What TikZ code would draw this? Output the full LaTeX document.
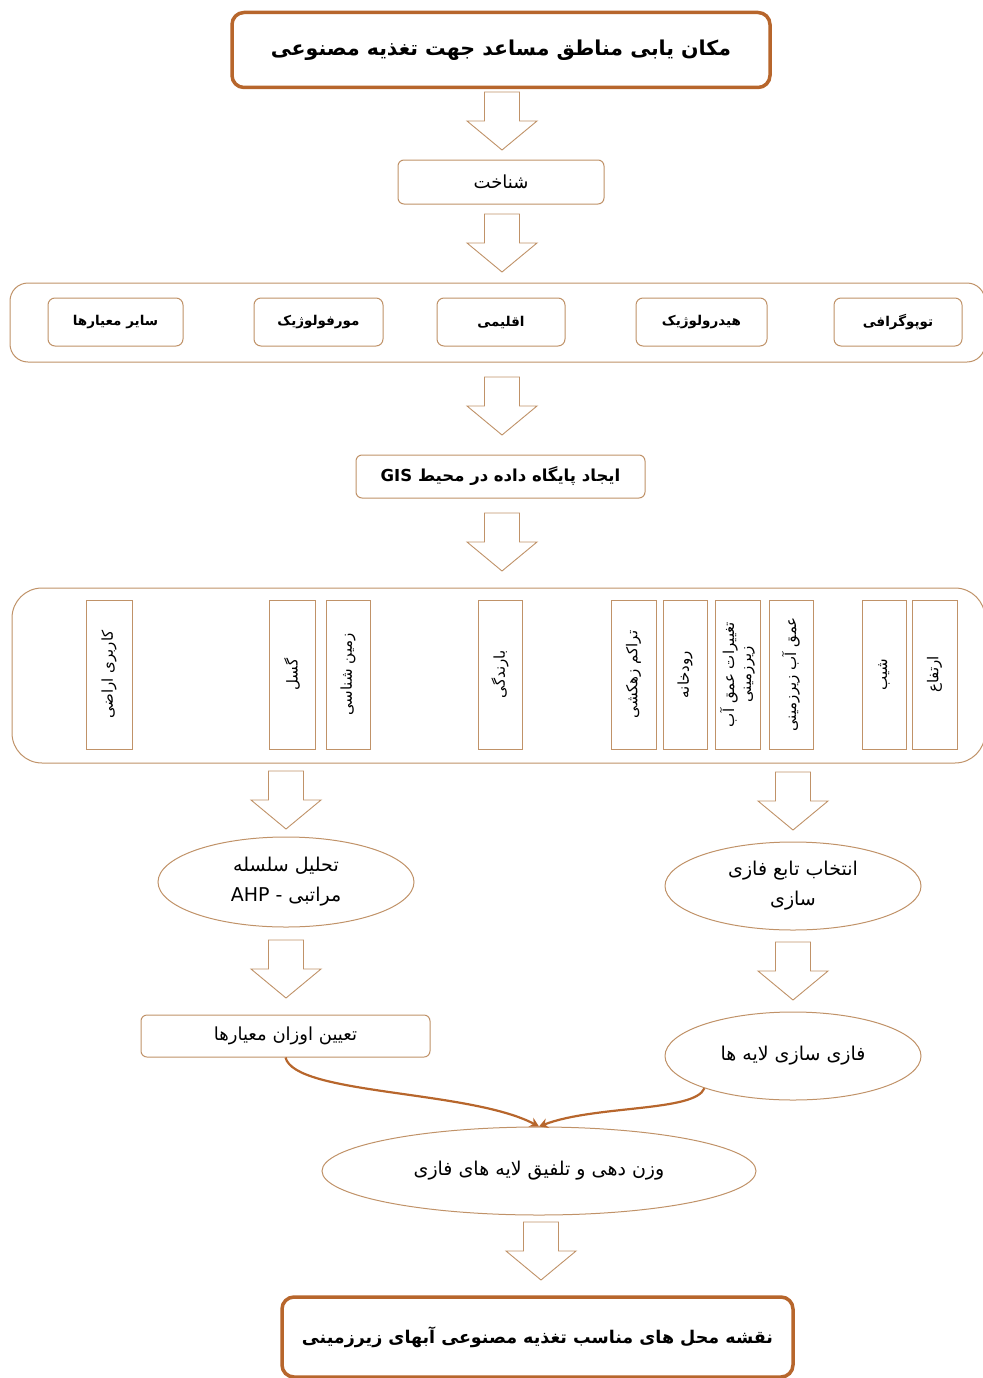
\documentclass[tikz,border=0pt]{standalone}
\usepackage{fontspec}
\usepackage{xcolor}
\usepackage{tikz}
\usetikzlibrary{arrows.meta,shapes.geometric}
\TeXXeTstate=1
\newfontfamily\fa[Script=Arabic]{DejaVu Sans}
\definecolor{boxbrown}{RGB}{192,146,104}
\definecolor{darkbrown}{RGB}{183,102,44}
\newcommand{\fatxt}[1]{\beginR #1\endR}
% hollow block arrow: centre x, top y
\newcommand{\hollowarrow}[2]{%
  \draw[hollow] (#1-17.5,#2) -- (#1+17.5,#2) -- (#1+17.5,#2+29) -- (#1+35,#2+29)
    -- (#1,#2+58) -- (#1-35,#2+29) -- (#1-17.5,#2+29) -- cycle;}

\tikzset{
  titlebox/.style={draw=darkbrown, line width=3.5pt, rounded corners=12pt, fill=white,
    font=\fa\bfseries\fontsize{20.5}{24}\selectfont},
  stepbox/.style={draw=boxbrown, line width=1pt, rounded corners=6pt, fill=white,
    font=\fa\fontsize{18}{21}\selectfont},
  critbox/.style={draw=boxbrown, line width=1pt, rounded corners=7pt, fill=white,
    minimum height=48pt, font=\fa\bfseries\fontsize{13.5}{16}\selectfont},
  groupbox/.style={draw=boxbrown, line width=1pt, fill=white},
  layerbox/.style={draw=boxbrown, line width=1pt, rotate=90, minimum width=149pt,
    align=center, inner sep=1pt, font=\fa\fontsize{15}{17}\selectfont},
  ovalbox/.style={ellipse, draw=boxbrown, line width=1pt, align=center, inner sep=0pt,
    font=\fa\fontsize{19}{30}\selectfont},
  hollow/.style={draw=boxbrown, fill=white, line width=0.9pt},
  flow/.style={draw=darkbrown, line width=2.2pt, -{Stealth[length=9pt,width=10pt]}}
}

\begin{document}
\begin{tikzpicture}[x=1pt,y=-1pt]
  \useasboundingbox (0,0) rectangle (982,1378);

  % Title and first step
  \node[titlebox, minimum width=538pt, minimum height=75pt] (title) at (501,50)
    {\fatxt{مکان یابی مناطق مساعد جهت تغذیه مصنوعی}};
  \hollowarrow{502}{92}
  \node[stepbox, minimum width=206pt, minimum height=44pt] (know) at (501,182) {\fatxt{شناخت}};
  \hollowarrow{502}{214}

  % Criteria group
  \node[groupbox, rounded corners=18pt, minimum width=975pt, minimum height=79pt] (crit) at (497.5,322.5) {};
  \node[critbox, minimum width=135pt] (other) at (115.5,322) {\fatxt{سایر معیارها}};
  \node[critbox, minimum width=129pt] (morph) at (318.5,322) {\fatxt{مورفولوژیک}};
  \node[critbox, minimum width=128pt] (clim)  at (501,322)   {\fatxt{اقلیمی}};
  \node[critbox, minimum width=131pt] (hydro) at (701.5,322) {\fatxt{هیدرولوژیک}};
  \node[critbox, minimum width=128pt] (topo)  at (898,322)   {\fatxt{توپوگرافی}};
  \hollowarrow{502}{377}

  % Database
  \node[stepbox, minimum width=289pt, minimum height=43pt, font=\fa\bfseries\fontsize{16.5}{19}\selectfont] (gis) at (500.5,476.5)
    {\fatxt{ایجاد پایگاه داده در محیط GIS}};
  \hollowarrow{502}{513}

  % Layers group
  \node[groupbox, rounded corners=30pt, minimum width=973pt, minimum height=175pt] (layers) at (498.5,675.5) {};
  \node[layerbox, minimum height=46pt] (landuse) at (109,674.5)   {\fatxt{کاربری اراضی}};
  \node[layerbox, minimum height=46pt] (fault)   at (292,674.5)   {\fatxt{گسل}};
  \node[layerbox, minimum height=44pt] (geo)     at (348,674.5)   {\fatxt{زمین شناسی}};
  \node[layerbox, minimum height=44pt] (rain)    at (500,674.5)   {\fatxt{بارندگی}};
  \node[layerbox, minimum height=45pt] (drain)   at (633.5,674.5) {\fatxt{تراکم زهکشی}};
  \node[layerbox, minimum height=44pt] (river)   at (685,674.5)   {\fatxt{رودخانه}};
  \node[layerbox, minimum height=45pt] (change)  at (737.5,674.5) {\fatxt{تغییرات عمق آب}\\\fatxt{زیرزمینی}};
  \node[layerbox, minimum height=44pt] (depth)   at (791,674.5)   {\fatxt{عمق آب زیرزمینی}};
  \node[layerbox, minimum height=44pt] (slope)   at (884,674.5)   {\fatxt{شیب}};
  \node[layerbox, minimum height=45pt] (elev)    at (934.5,674.5) {\fatxt{ارتفاع}};
  \hollowarrow{286}{771}
  \hollowarrow{793}{772}

  % Two branches
  \node[ovalbox, minimum width=256pt, minimum height=90pt] (ahp) at (286,882)
    {\fatxt{تحلیل سلسله}\\\fatxt{مراتبی - AHP}};
  \node[ovalbox, minimum width=256pt, minimum height=88pt] (fuzzyfn) at (793,886)
    {\fatxt{انتخاب تابع فازی}\\\fatxt{سازی}};
  \hollowarrow{286}{940}
  \hollowarrow{793}{942}
  \node[stepbox, minimum width=289pt, minimum height=42pt] (weights) at (285.5,1036) {\fatxt{تعیین اوزان معیارها}};
  \node[ovalbox, minimum width=256pt, minimum height=88pt] (fuzzy) at (793,1056) {\fatxt{فازی سازی لایه ها}};

  % Overlay
  \node[ovalbox, minimum width=434pt, minimum height=88pt] (merge) at (539,1171)
    {\fatxt{وزن دهی و تلفیق لایه های فازی}};
  \draw[flow] (weights.south) .. controls (295,1095) and (470,1090) .. (merge.north);
  \draw[flow] (fuzzy.200) .. controls (695,1112) and (595,1105) .. (merge.north);
  \hollowarrow{541}{1222}

  % Result
  \node[titlebox, minimum width=511pt, minimum height=80pt, font=\fa\bfseries\fontsize{17.5}{21}\selectfont] (result) at (537.5,1337)
    {\fatxt{نقشه محل های مناسب تغذیه مصنوعی آبهای زیرزمینی}};
\end{tikzpicture}
\end{document}
